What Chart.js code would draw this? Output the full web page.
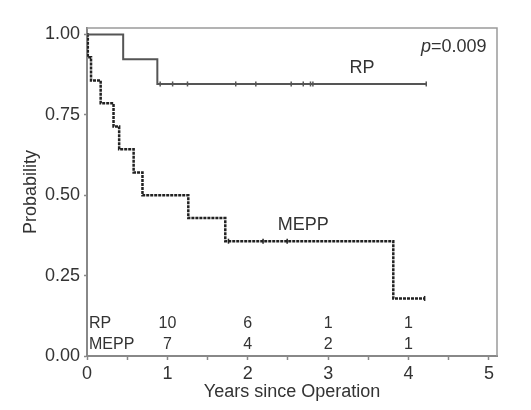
<!DOCTYPE html>
<html>
<head>
<meta charset="utf-8">
<script src="https://cdn.jsdelivr.net/npm/chart.js@4.4.0/dist/chart.umd.min.js"></script>
<style>
  body { margin: 0; background: #fff; }
</style>
</head>
<body>
<canvas id="kmChart" width="531" height="410"></canvas>
<script>
// Kaplan-Meier steps
const rpTimes = [0, 0.45, 0.875, 4.22];
const rpSurv = [1, 0.923, 0.846, 0.846];
const rpCensorTimes = [0.91, 1.065, 1.25, 1.85, 2.10, 2.54, 2.69, 2.78, 2.81, 4.22];
const rpCensorSurv = [0.846, 0.846, 0.846, 0.846, 0.846, 0.846, 0.846, 0.846, 0.846, 0.846];

const meppTimes = [0, 0.01, 0.05, 0.17, 0.33, 0.40, 0.58, 0.69, 1.26, 1.72, 3.81, 4.20];
const meppSurv = [1, 0.929, 0.857, 0.786, 0.714, 0.643, 0.571, 0.5, 0.429, 0.357, 0.179, 0.179];
const meppCensorTimes = [1.76, 2.19, 2.49, 4.20];
const meppCensorSurv = [0.357, 0.357, 0.357, 0.179];

// numbers at risk
const riskYears = [1, 2, 3, 4];
const rpAtRisk = [10, 6, 1, 1];
const meppAtRisk = [7, 4, 2, 1];

const yTicks = [0, 0.25, 0.5, 0.75, 1];
const pText = "=0.009";

function pts(xs, ys) {
  return xs.map((t, i) => ({ x: t, y: ys[i] }));
}

const FONT = "'Liberation Sans', Arial, sans-serif";
const TXT = "#333";

// frame on top/right plus the text annotations
const annotations = {
  id: 'annotations',
  afterDatasetsDraw(chart) {
    const ctx = chart.ctx;
    const a = chart.chartArea;
    const x = chart.scales.x;
    const y = chart.scales.y;
    ctx.save();
    ctx.strokeStyle = "#9a9a9a";
    ctx.lineWidth = 1.5;
    ctx.beginPath();
    ctx.moveTo(a.left, a.top);
    ctx.lineTo(a.right, a.top);
    ctx.lineTo(a.right, a.bottom);
    ctx.stroke();

    ctx.fillStyle = TXT;
    ctx.textBaseline = "middle";

    // curve labels
    ctx.font = "18px " + FONT;
    ctx.textAlign = "center";
    ctx.fillText("RP", x.getPixelForValue(3.42), y.getPixelForValue(0.895));
    ctx.fillText("MEPP", x.getPixelForValue(2.69), y.getPixelForValue(0.407));

    // p value, right aligned
    const px = x.getPixelForValue(4.97);
    const py = y.getPixelForValue(0.96);
    ctx.textAlign = "right";
    ctx.fillText(pText, px, py);
    const w = ctx.measureText(pText).width;
    ctx.font = "italic 18px " + FONT;
    ctx.fillText("p", px - w, py);

    // numbers at risk
    ctx.font = "16px " + FONT;
    ctx.textAlign = "left";
    ctx.fillText("RP", a.left + 2, a.bottom - 32);
    ctx.fillText("MEPP", a.left + 2, a.bottom - 11);
    ctx.textAlign = "center";
    riskYears.forEach((yr, i) => {
      const cx = x.getPixelForValue(yr);
      ctx.fillText(String(rpAtRisk[i]), cx, a.bottom - 32);
      ctx.fillText(String(meppAtRisk[i]), cx, a.bottom - 11);
    });
    ctx.restore();
  }
};

var ctx = document.getElementById("kmChart").getContext('2d');
var kmChart = new Chart(ctx, {
  type: 'scatter',
  data: {
    datasets: [
      {
        label: "RP",
        data: pts(rpTimes, rpSurv),
        showLine: true,
        stepped: 'before',
        borderColor: "#555",
        borderWidth: 2,
        pointRadius: 0,
        order: 2
      },
      {
        label: "RP censored",
        data: pts(rpCensorTimes, rpCensorSurv),
        showLine: false,
        pointStyle: 'line',
        rotation: 90,
        pointRadius: 2.5,
        pointBorderWidth: 1.5,
        borderColor: "#555",
        order: 1
      },
      {
        label: "MEPP",
        data: pts(meppTimes, meppSurv),
        showLine: true,
        stepped: 'before',
        borderColor: "#222",
        borderWidth: 2.5,
        borderDash: [3, 1],
        pointRadius: 0,
        order: 2
      },
      {
        label: "MEPP censored",
        data: pts(meppCensorTimes, meppCensorSurv),
        showLine: false,
        pointStyle: 'line',
        rotation: 90,
        pointRadius: 2.5,
        pointBorderWidth: 1.5,
        borderColor: "#222",
        order: 1
      }
    ]
  },
  options: {
    responsive: false,
    animation: false,
    layout: { padding: { top: 28, right: 34, left: 0, bottom: 0 } },
    plugins: {
      legend: { display: false },
      tooltip: { enabled: false }
    },
    scales: {
      x: {
        type: 'linear',
        min: 0,
        max: 5.1,
        afterFit(scale) { scale.height = 54; },
        border: { color: "#888", width: 2 },
        grid: { drawOnChartArea: false, tickLength: 4, tickColor: "#888", tickWidth: 1.5 },
        ticks: {
          stepSize: 0.5,
          includeBounds: false,
          autoSkip: false,
          maxRotation: 0,
          padding: 3,
          color: TXT,
          font: { family: FONT, size: 18 },
          callback: (v) => Number.isInteger(v) ? String(v) : ''
        },
        title: {
          display: true,
          text: "Years since Operation",
          color: TXT,
          font: { family: FONT, size: 18 },
          padding: { top: 0, bottom: 7 }
        }
      },
      y: {
        type: 'linear',
        min: 0,
        max: 1.02,
        afterFit(scale) { scale.width = 87; },
        afterBuildTicks(scale) { scale.ticks = yTicks.map(v => ({ value: v })); },
        border: { color: "#888", width: 2 },
        grid: { drawOnChartArea: false, tickLength: 3, tickColor: "#888", tickWidth: 1.5 },
        ticks: {
          padding: 4,
          color: TXT,
          font: { family: FONT, size: 18 },
          callback: (v) => Number(v).toFixed(2)
        },
        title: {
          display: true,
          text: "Probability",
          color: TXT,
          font: { family: FONT, size: 18 },
          padding: { top: 20, bottom: 0 }
        }
      }
    }
  },
  plugins: [annotations]
});
</script>
</body>
</html>
